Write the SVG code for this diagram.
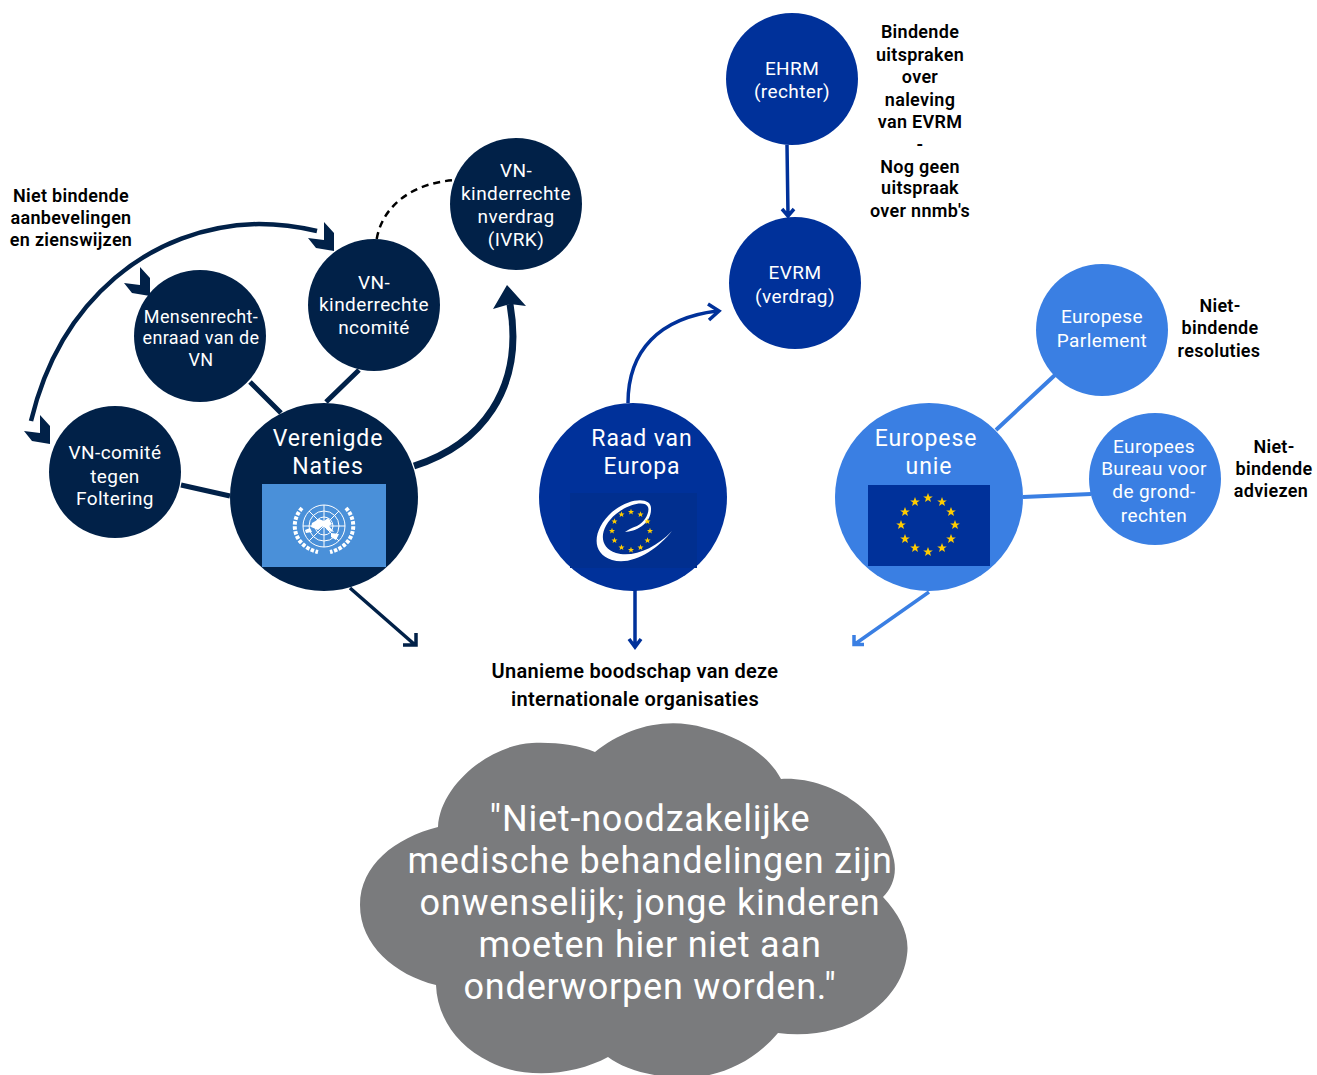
<svg xmlns="http://www.w3.org/2000/svg" xmlns:xlink="http://www.w3.org/1999/xlink" width="1317" height="1075" viewBox="0 0 1317 1075">
<style>
text{font-family:Roboto,"Noto Sans",sans-serif;text-anchor:middle}
.n{fill:#fff;font-size:19px;letter-spacing:.4px}
.b{fill:#fff;font-size:23px;letter-spacing:.9px}
.l{fill:#000;font-size:18px;font-weight:600;letter-spacing:.3px}
.c{fill:#fff;font-size:36px;letter-spacing:.8px}
.navy{fill:#012148}.blue{fill:#00319a}.sky{fill:#3a7fe3}
.ln{fill:none;stroke-linecap:butt}
.sn{stroke:#012148}.sb{stroke:#00319a}.ss{stroke:#3a7fe3}
.st{fill:#ffcc00}
.em{fill:none;stroke:#fff}
</style>
<defs>
<polygon id="chev" points="324,222 334,233 334,251 316,248 308,238 324,240" fill="#012148"/>
<polygon id="star" points="0,-5 1.3,-1.6 4.8,-1.5 2,.6 3,4 0,2 -3,4 -2,.6 -4.8,-1.5 -1.3,-1.6"/>
<polygon id="star2" points="0,-3.2 .8,-1 3,-1 1.3,.4 1.9,2.6 0,1.3 -1.9,2.6 -1.3,.4 -3,-1 -.8,-1"/>
</defs>

<g id="connectors">
<path class="ln sn" stroke-width="5" d="M250,382L281,413M359,370L326,402M181,485L230,496"/>
<path class="ln sn" stroke-width="4.5" d="M31,421C60,300 150,226 259,224C280,224 300,227 317,231"/>
<use xlink:href="#chev" href="#chev"/>
<use xlink:href="#chev" href="#chev" transform="translate(-184,45)"/>
<use xlink:href="#chev" href="#chev" transform="translate(-284,193)"/>
<path class="ln" stroke="#000" stroke-width="2.5" stroke-dasharray="7 5" d="M376,275V244C380,205 415,181 459,180"/>
<path class="ln sn" stroke-width="7" d="M414,466C480,445 525,390 510,304"/>
<polygon points="507,285 526,306 510,304 493,309" fill="#012148"/>
<path class="ln sn" stroke-width="3.5" d="M350,588L414,644M403,645H416V633"/>
<path class="ln sb" stroke-width="3.5" d="M787,145L788,215M782,209L788,216L794,209"/>
<path class="ln sb" stroke-width="3.5" d="M628,403C628,350 660,318 717,311M708,304L719,311L709,320"/>
<path class="ln sb" stroke-width="3.5" d="M635,590V646M629,639L635,647L641,639"/>
<path class="ln ss" stroke-width="4" d="M996,430L1055,375M1023,497L1091,494"/>
<path class="ln ss" stroke-width="3.5" d="M929,592L855,644M854,635V644.500H864"/>
</g>

<g id="un-verenigde-naties">
<circle class="navy" cx="324" cy="497" r="94"/>
<rect x="262" y="484" width="124" height="83" fill="#4a90d9"/>
<g class="em" stroke-width="1">
<circle cx="324" cy="526" r="21"/><circle cx="324" cy="526" r="15"/><circle cx="324" cy="526" r="9"/>
<path d="M324,505V547M303,526H345M309,511L339,541M339,511L309,541"/>
</g>
<path d="M312,523l7,-4 5,2 4,-3 4,6 -3,2 5,6 -7,-2 -3,-5 -6,5 -7,-3zM305,530l5,-2 2,4 -6,1zM331,533l8,1 -3,6 -5,-3z" fill="#fff"/>
<path class="em" stroke-width="4" stroke-dasharray="3.500 1.500" d="M302,508C289,522 293,546 318,552M346,508C359,522 355,546 330,552"/>
<text class="b" x="328" y="446">Verenigde</text>
<text class="b" x="328" y="474">Naties</text>
</g>

<g id="raad-van-europa">
<circle class="blue" cx="633" cy="497" r="94"/>
<rect x="570" y="493" width="127" height="75" fill="#012f8f"/>
<path d="M651,508C651,497 630,497 612,512C593,529 590,553 612,560C632,566 657,550 672,531C655,549 632,558 616,553C597,547 600,527 616,514C628,504 645,500 648,507C650,512 645,522 637,526C631,528 628,530 625,532C635,532 652,524 651,508Z" fill="#fff"/>
<g class="st">
<use xlink:href="#star2" href="#star2" x="631" y="512"/><use xlink:href="#star2" href="#star2" x="640.500" y="514.500"/><use xlink:href="#star2" href="#star2" x="647.500" y="521.500"/><use xlink:href="#star2" href="#star2" x="650" y="531"/><use xlink:href="#star2" href="#star2" x="647.500" y="540.500"/><use xlink:href="#star2" href="#star2" x="640.500" y="547.500"/><use xlink:href="#star2" href="#star2" x="631" y="550"/><use xlink:href="#star2" href="#star2" x="621.500" y="547.500"/><use xlink:href="#star2" href="#star2" x="614.500" y="540.500"/><use xlink:href="#star2" href="#star2" x="612" y="531"/><use xlink:href="#star2" href="#star2" x="614.500" y="521.500"/><use xlink:href="#star2" href="#star2" x="621.500" y="514.500"/>
</g>
<text class="b" x="642" y="446">Raad van</text>
<text class="b" x="642" y="474">Europa</text>
</g>

<g id="europese-unie">
<circle class="sky" cx="929" cy="497" r="94"/>
<rect x="868" y="485" width="122" height="81" fill="#00319a"/>
<g class="st">
<use xlink:href="#star" href="#star" x="928" y="498"/><use xlink:href="#star" href="#star" x="942" y="502"/><use xlink:href="#star" href="#star" x="951" y="512"/><use xlink:href="#star" href="#star" x="955" y="525"/><use xlink:href="#star" href="#star" x="951" y="539"/><use xlink:href="#star" href="#star" x="942" y="548"/><use xlink:href="#star" href="#star" x="928" y="552"/><use xlink:href="#star" href="#star" x="915" y="548"/><use xlink:href="#star" href="#star" x="905" y="539"/><use xlink:href="#star" href="#star" x="901" y="525"/><use xlink:href="#star" href="#star" x="905" y="512"/><use xlink:href="#star" href="#star" x="915" y="502"/>
</g>
<text class="b" x="926" y="446">Europese</text>
<text class="b" x="929" y="474">unie</text>
</g>

<g id="vn-kinderrechtenverdrag">
<circle class="navy" cx="516" cy="204" r="66"/>
<text class="n" x="516" y="177">VN-</text><text class="n" x="516" y="200">kinderrechte</text><text class="n" x="516" y="223">nverdrag</text><text class="n" x="516" y="246">(IVRK)</text>
</g>
<g id="vn-kinderrechtencomite">
<circle class="navy" cx="374" cy="305" r="66"/>
<text class="n" x="374" y="289">VN-</text><text class="n" x="374" y="311">kinderrechte</text><text class="n" x="374" y="334">ncomité</text>
</g>
<g id="mensenrechtenraad">
<circle class="navy" cx="200" cy="336" r="66"/>
<text class="n" style="font-size:18px" x="201" y="323">Mensenrecht-</text><text class="n" style="font-size:18px" x="201" y="344">enraad van de</text><text class="n" style="font-size:18px" x="201" y="366">VN</text>
</g>
<g id="vn-comite">
<circle class="navy" cx="115" cy="472" r="66"/>
<text class="n" x="115" y="459">VN-comité</text><text class="n" x="115" y="483">tegen</text><text class="n" x="115" y="505">Foltering</text>
</g>
<g id="ehrm">
<circle class="blue" cx="792" cy="79" r="66"/>
<text class="n" x="792" y="75">EHRM</text><text class="n" x="792" y="98">(rechter)</text>
</g>
<g id="evrm">
<circle class="blue" cx="795" cy="283" r="66"/>
<text class="n" x="795" y="279">EVRM</text><text class="n" x="795" y="303">(verdrag)</text>
</g>
<g id="europees-parlement">
<circle class="sky" cx="1102" cy="330" r="66"/>
<text class="n" x="1102" y="323">Europese</text><text class="n" x="1102" y="347">Parlement</text>
</g>
<g id="europees-bureau">
<circle class="sky" cx="1155" cy="479" r="66"/>
<text class="n" x="1154" y="453">Europees</text><text class="n" x="1154" y="475">Bureau voor</text><text class="n" x="1154" y="498">de grond-</text><text class="n" x="1154" y="522">rechten</text>
</g>

<g id="labels">
<text class="l" x="71" y="202">Niet bindende</text><text class="l" x="71" y="224">aanbevelingen</text><text class="l" x="71" y="246">en zienswijzen</text>
<text class="l" x="920" y="38">Bindende</text><text class="l" x="920" y="61">uitspraken</text><text class="l" x="920" y="83">over</text><text class="l" x="920" y="106">naleving</text><text class="l" x="920" y="128">van EVRM</text><text class="l" x="920" y="151">-</text><text class="l" x="920" y="173">Nog geen</text><text class="l" x="920" y="194">uitspraak</text><text class="l" x="920" y="217">over nnmb's</text>
<text class="l" x="1220" y="312">Niet-</text><text class="l" x="1220" y="334">bindende</text><text class="l" x="1219" y="357">resoluties</text>
<text class="l" x="1274" y="453">Niet-</text><text class="l" x="1274" y="475">bindende</text><text class="l" x="1271" y="497">adviezen</text>
<text class="l" style="font-size:20px" x="635" y="678">Unanieme boodschap van deze</text><text class="l" style="font-size:20px" x="635" y="706">internationale organisaties</text>
</g>

<g id="cloud">
<path fill="#7a7b7d" d="M595,752C625,728 665,716 705,728C745,738 770,758 781,779C830,776 885,812 894,860C897,875 892,888 883,897C900,915 910,935 907,955C902,1000 850,1042 778,1033C755,1060 725,1075 690,1078C655,1078 625,1070 608,1057C575,1075 525,1080 490,1062C455,1045 437,1015 436,985C395,975 360,945 360,905C360,865 395,838 438,827C440,785 490,745 532,743C555,742 578,745 595,752Z"/>
<text class="c" x="650" y="831">"Niet-noodzakelijke</text>
<text class="c" x="650" y="873">medische behandelingen zijn</text>
<text class="c" x="650" y="915">onwenselijk; jonge kinderen</text>
<text class="c" x="650" y="957">moeten hier niet aan</text>
<text class="c" x="650" y="999">onderworpen worden."</text>
</g>
</svg>
